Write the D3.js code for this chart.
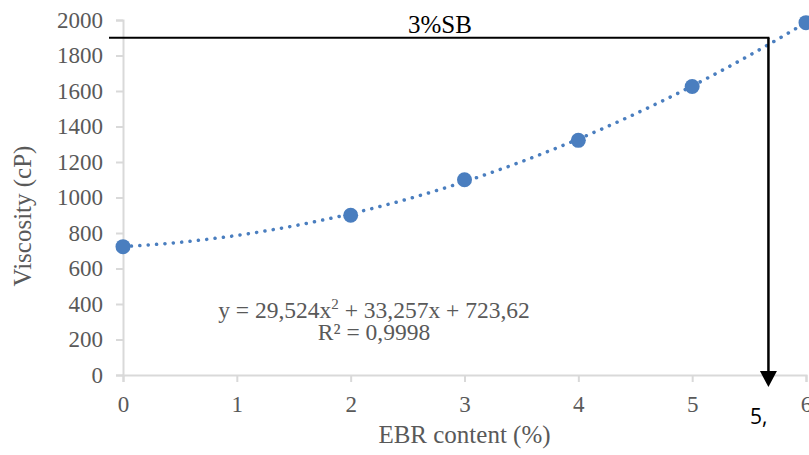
<!DOCTYPE html>
<html>
<head>
<meta charset="utf-8">
<script src="https://cdn.jsdelivr.net/npm/d3@7"></script>
<style>
  body { margin: 0; background: #fff; }
</style>
</head>
<body>
<div id="canvas"></div>
<script>
"use strict"

/* Data */
let ebrContent = [0, 2, 3, 4, 5, 6];
let viscosity = [723, 900, 1100, 1322, 1625, 1985];
let xTicks = [0, 1, 2, 3, 4, 5, 6];
let yTicks = [0, 200, 400, 600, 800, 1000, 1200, 1400, 1600, 1800, 2000];
// polynomial trendline coefficients as printed: c0 + c1*x + c2*x^2
let trendCoef = [723.62, 33.257, 29.524];
let sbLevel = [1900];      // horizontal guide
let sbCrossing = [5.67];   // where guide meets the curve

/* Drawing config */
let svgWidth = 809;
let svgHeight = 455;
let serif = "'Liberation Serif', 'Times New Roman', serif";
let gray = "#595959";
let axisColor = "#d9d9d9";
let blue = "#4a7ebf";

let svg = d3.select("#canvas")
    .append("svg")
    .attr("width", svgWidth)
    .attr("height", svgHeight)
    .attr("font-family", serif);

let xScale = d3.scaleLinear()
    .domain([0, 6])
    .range([123, 806]);

let yScale = d3.scaleLinear()
    .domain([0, 2000])
    .range([375, 20]);

/* y axis */
let yAxis = svg.append("g")
    .attr("transform", "translate(" + xScale(0) + ",0)")
    .call(d3.axisLeft(yScale).tickValues(yTicks).tickFormat(d3.format("d"))
        .tickSize(7).tickPadding(13));

/* x axis */
let xAxis = svg.append("g")
    .attr("transform", "translate(0," + yScale(0) + ")")
    .call(d3.axisBottom(xScale).tickValues(xTicks).tickFormat(d3.format("d"))
        .tickSize(7).tickPadding(14));

[xAxis, yAxis].forEach(function (ax) {
    ax.attr("font-family", serif).attr("font-size", 23);
    ax.select(".domain").attr("stroke", axisColor).attr("stroke-width", 2);
    ax.selectAll(".tick line").attr("stroke", axisColor).attr("stroke-width", 2);
    ax.selectAll(".tick text").attr("fill", gray);
});

/* trendline (dotted) */
let trendPts = d3.range(0, 6.001, 0.05).map(function (x) {
    return [x, trendCoef[0] + trendCoef[1] * x + trendCoef[2] * x * x];
});
svg.append("path")
    .datum(trendPts)
    .attr("fill", "none")
    .attr("stroke", blue)
    .attr("stroke-width", 3.5)
    .attr("stroke-linecap", "round")
    .attr("stroke-dasharray", "0.1 8.3")
    .attr("d", d3.line()
        .x(function (d) { return xScale(d[0]); })
        .y(function (d) { return yScale(d[1]); }));

/* data points */
svg.selectAll("circle.pt")
    .data(ebrContent)
    .join("circle")
    .attr("class", "pt")
    .attr("r", 7.5)
    .attr("fill", blue)
    .attr("cx", function (d) { return xScale(d); })
    .attr("cy", function (d, i) { return yScale(viscosity[i]); });

/* guide line and arrow */
let arrowX = xScale(sbCrossing[0]);

svg.append("line")
    .attr("x1", 109)
    .attr("x2", arrowX + 1)
    .attr("y1", yScale(sbLevel[0]))
    .attr("y2", yScale(sbLevel[0]))
    .attr("stroke", "#000")
    .attr("stroke-width", 2);

svg.append("line")
    .attr("x1", arrowX)
    .attr("x2", arrowX)
    .attr("y1", yScale(sbLevel[0]))
    .attr("y2", 380)
    .attr("stroke", "#000")
    .attr("stroke-width", 2.5);

svg.append("path")
    .attr("d", "M" + (arrowX - 8.5) + ",371 L" + (arrowX + 8.5) + ",371 L" + arrowX + ",387 Z")
    .attr("fill", "#000");

svg.append("text")
    .attr("x", 440)
    .attr("y", 33)
    .attr("text-anchor", "middle")
    .attr("fill", "#000")
    .attr("font-size", 25)
    .text("3%SB");

svg.append("text")
    .attr("x", 750)
    .attr("y", 424)
    .attr("fill", "#000")
    .attr("font-family", "'Open Sans', 'Liberation Sans', sans-serif")
    .attr("font-size", 21)
    .text("5,");

/* equation */
let eq = svg.append("text")
    .attr("x", 374)
    .attr("y", 318)
    .attr("text-anchor", "middle")
    .attr("fill", gray)
    .attr("font-size", 23.5);
eq.append("tspan").text("y = 29,524x");
eq.append("tspan").attr("dy", -9).attr("font-size", 15).text("2");
eq.append("tspan").attr("dy", 9).text(" + 33,257x + 723,62");

svg.append("text")
    .attr("x", 374)
    .attr("y", 340)
    .attr("text-anchor", "middle")
    .attr("fill", gray)
    .attr("font-size", 23.5)
    .text("R² = 0,9998");

/* axis titles */
svg.append("text")
    .attr("x", xScale(3))
    .attr("y", 443)
    .attr("text-anchor", "middle")
    .attr("fill", gray)
    .attr("font-size", 25)
    .text("EBR content (%)");

svg.append("text")
    .attr("transform", "translate(31,216) rotate(-90)")
    .attr("text-anchor", "middle")
    .attr("fill", gray)
    .attr("font-size", 25)
    .text("Viscosity (cP)");
</script>
</body>
</html>
